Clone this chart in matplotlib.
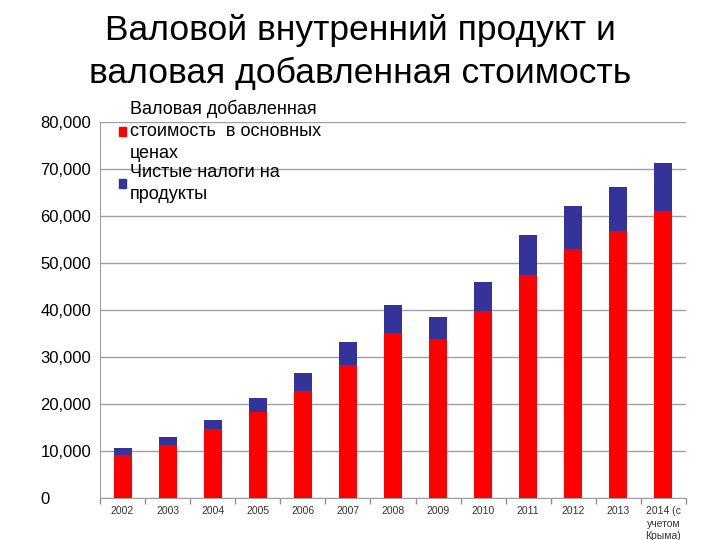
import matplotlib
matplotlib.use("Agg")
import matplotlib.pyplot as plt
import numpy as np
from matplotlib.patches import Patch

plt.rcParams['font.family'] = ['Liberation Sans', 'DejaVu Sans']

years = ["2002", "2003", "2004", "2005", "2006", "2007", "2008", "2009",
         "2010", "2011", "2012", "2013", "2014 (с\nучетом\nКрыма)"]
gva = [9150, 11300, 14600, 18300, 22800, 28300, 35100, 33800,
       39800, 47500, 53000, 56900, 61100]
taxes = [1550, 1600, 2100, 3000, 3800, 4900, 6000, 4800,
         6200, 8400, 9100, 9200, 10200]
yticks = [0, 10000, 20000, 30000, 40000, 50000, 60000, 70000, 80000]
ytick_labels = ["0", "10,000", "20,000", "30,000", "40,000", "50,000",
                "60,000", "70,000", "80,000"]
legend_labels = ["Валовая добавленная\nстоимость  в основных\nценах",
                 "Чистые налоги на\nпродукты"]
title = "Валовой внутренний продукт и\nваловая добавленная стоимость"

red = "#ff0000"
blue = "#333399"

fig = plt.figure(figsize=(7.2, 5.4), dpi=100)
ax = fig.add_axes([100/720, 1-498/540, 586/720, 376/540])

x = np.arange(len(years))
ax.bar(x, gva, width=0.4, color=red, zorder=3)
ax.bar(x, taxes, bottom=gva, width=0.4, color=blue, zorder=3)

ax.set_xlim(-0.5, len(years) - 0.5)
ax.set_ylim(0, 80000)
ax.set_yticks(yticks)
ax.set_yticklabels(ytick_labels, fontsize=12)
for lab in ax.get_yticklabels():
    lab.set_horizontalalignment('left')
ax.tick_params(axis='y', length=0, pad=43)
ax.yaxis.grid(True, color="#a0a0a0", linewidth=1, zorder=0)
ax.set_axisbelow(True)

ax.set_xticks(x)
ax.set_xticklabels(years, fontsize=7.5, color="#333333", linespacing=1.3, va='top')
ax.set_xticks(np.arange(-0.5, len(years)), minor=True)
ax.tick_params(axis='x', which='major', length=0, pad=6)
ax.tick_params(axis='x', which='minor', length=4, color="#909090", width=1)

for s in ['top', 'right']:
    ax.spines[s].set_visible(False)
ax.spines['left'].set_color("#a0a0a0")
ax.spines['bottom'].set_color("#a0a0a0")

handles = [Patch(color=red), Patch(color=blue)]
leg = fig.legend(handles, legend_labels, loc='upper left',
                 bbox_to_anchor=(119/720, 1-100/540), frameon=False, fontsize=13,
                 handlelength=0.4, handleheight=0.4, handletextpad=0.2,
                 labelspacing=0.1, borderpad=0, borderaxespad=0)
for t in leg.get_texts():
    t.set_linespacing(1.38)

fig.text(0.5, 1-52/540, title, ha='center', va='center', fontsize=25.5,
         linespacing=1.38)

fig.savefig("out.png", dpi=100)
